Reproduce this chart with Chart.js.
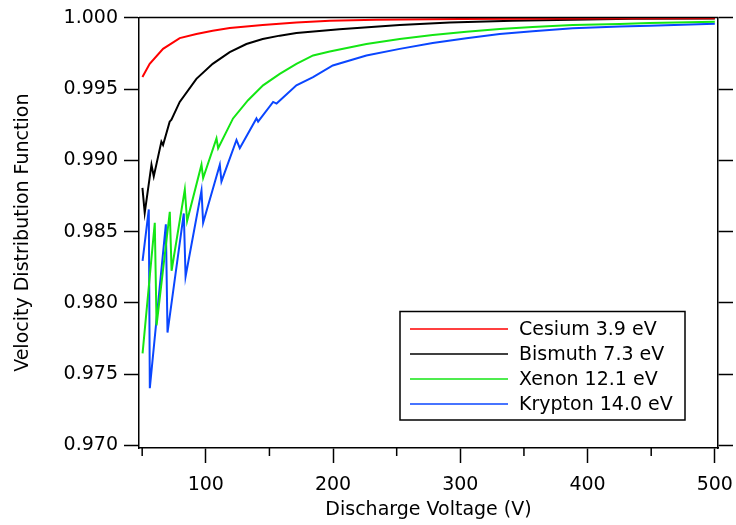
<!DOCTYPE html>
<html>
<head>
<meta charset="utf-8">
<script src="https://cdn.jsdelivr.net/npm/chart.js@4.4.1/dist/chart.umd.min.js"></script>
<style>
  html, body { margin: 0; padding: 0; background: #fff; }
  #wrap { width: 736px; height: 525px; }
</style>
</head>
<body>
<div id="wrap"><canvas id="vdfChart"></canvas></div>
<script>
// 軸の目盛り
const xTicks = [100, 200, 300, 400, 500];
const xMinorTicks = [50, 150, 250, 350, 450];
const yTicks = [0.970, 0.975, 0.980, 0.985, 0.990, 0.995, 1.000];

// 系列名
const seriesNames = ['Cesium 3.9 eV', 'Bismuth 7.3 eV', 'Xenon 12.1 eV', 'Krypton 14.0 eV'];

// Cesium
const cesiumV = [50.2, 55.9, 66.4, 79.5, 92.6, 105.4, 118.8, 144.7, 171.2, 197.4, 234, 300, 396, 500];
const cesiumF = [0.99585, 0.99678, 0.99783, 0.99859, 0.99887, 0.99911, 0.99929, 0.99950, 0.99969, 0.99980, 0.99988, 0.99992, 0.99996, 0.99998];

// Bismuth
const bismuthV = [50.2, 52.0, 57.3, 59.1, 65.1, 66.4, 71.6, 73.0, 79.5, 92.6, 105.4, 118.8, 131.9, 144.7, 158.1, 171.2, 205, 252.4, 291.7, 341, 435, 500];
const bismuthF = [0.98807, 0.98632, 0.98970, 0.98888, 0.99132, 0.99109, 0.99272, 0.99286, 0.99411, 0.99573, 0.99678, 0.99760, 0.99817, 0.99852, 0.99876, 0.99894, 0.99920, 0.99950, 0.99969, 0.99980, 0.99994, 0.99996];

// Xenon
const xenonV = [50.3, 59.9, 61.3, 71.7, 73.1, 83.5, 85.3, 96.6, 97.9, 108.4, 109.7, 121.4, 133.2, 145.0, 158.1, 171.2, 184.3, 197.4, 226.2, 252.4, 278.3, 304.8, 330.9, 356.9, 388.3, 425.2, 448.8, 500];
const xenonF = [0.97646, 0.98563, 0.97843, 0.98640, 0.98226, 0.98796, 0.98575, 0.98970, 0.98876, 0.99155, 0.99086, 0.99295, 0.99423, 0.99527, 0.99608, 0.99678, 0.99737, 0.99764, 0.99817, 0.99852, 0.99880, 0.99904, 0.99922, 0.99936, 0.99950, 0.99957, 0.99964, 0.99974];

// Krypton
const kryptonV = [50.3, 55.2, 56.0, 68.6, 69.9, 82.7, 84.1, 96.6, 97.9, 111.0, 112.3, 124.1, 126.7, 139.8, 141.1, 152.9, 155.6, 171.2, 184.3, 199.8, 226.2, 252.4, 278.3, 304.8, 330.9, 356.9, 388.3, 425.2, 448.8, 500];
const kryptonF = [0.98296, 0.98656, 0.97402, 0.98552, 0.97792, 0.98628, 0.98186, 0.98789, 0.98563, 0.98970, 0.98853, 0.99144, 0.99086, 0.99295, 0.99272, 0.99411, 0.99399, 0.99527, 0.99585, 0.99667, 0.99737, 0.99783, 0.99824, 0.99857, 0.99887, 0.99906, 0.99927, 0.99941, 0.99946, 0.99960];

const colors = ['#ff0000', '#000000', '#14e614', '#0a46ff'];

const toPoints = (xs, ys) => xs.map((x, i) => ({ x: x, y: ys[i] }));

const font = { family: "'DejaVu Sans', sans-serif", size: 19 };

// 上枠と x の小目盛り
const framePlugin = {
    id: 'frame',
    afterDraw(chart) {
        const ctx = chart.ctx;
        const a = chart.chartArea;
        const xs = chart.scales.x;
        ctx.save();
        ctx.strokeStyle = '#000';
        ctx.lineWidth = 1.5;
        ctx.beginPath();
        ctx.moveTo(a.left, a.top);
        ctx.lineTo(a.right, a.top);
        xMinorTicks.forEach(v => {
            const px = xs.getPixelForValue(v);
            ctx.moveTo(px, a.bottom);
            ctx.lineTo(px, a.bottom + 8);
        });
        ctx.stroke();
        ctx.restore();
    }
};

// 枠付きの凡例
const boxLegend = {
    id: 'boxLegend',
    afterDraw(chart) {
        const ctx = chart.ctx;
        const a = chart.chartArea;
        const right = a.right - 33;
        const bottom = a.bottom - 28;
        const left = right - 285;
        const top = bottom - 108.5;
        ctx.save();
        ctx.fillStyle = '#fff';
        ctx.fillRect(left, top, right - left, bottom - top);
        ctx.strokeStyle = '#000';
        ctx.lineWidth = 1.5;
        ctx.strokeRect(left, top, right - left, bottom - top);
        ctx.font = "19px 'DejaVu Sans', sans-serif";
        ctx.textBaseline = 'middle';
        ctx.textAlign = 'left';
        chart.data.datasets.forEach((ds, i) => {
            const y = top + 17.5 + i * 25;
            ctx.strokeStyle = ds.borderColor;
            ctx.lineWidth = 1.5;
            ctx.beginPath();
            ctx.moveTo(left + 10, y);
            ctx.lineTo(left + 108, y);
            ctx.stroke();
            ctx.fillStyle = '#000';
            ctx.fillText(ds.label, left + 119, y + 1);
        });
        ctx.restore();
    }
};

const datasets = [
    [cesiumV, cesiumF],
    [bismuthV, bismuthF],
    [xenonV, xenonF],
    [kryptonV, kryptonF]
].map((s, i) => ({
    label: seriesNames[i],
    data: toPoints(s[0], s[1]),
    borderColor: colors[i],
    backgroundColor: colors[i],
    borderWidth: 2,
    pointRadius: 0,
    tension: 0,
    fill: false
}));

new Chart(document.getElementById('vdfChart'), {
    type: 'line',
    data: { datasets: datasets },
    options: {
        responsive: true,
        maintainAspectRatio: false,
        animation: false,
        layout: { padding: { top: 15, left: 0, right: 0, bottom: 0 } },
        plugins: { legend: { display: false }, tooltip: { enabled: false } },
        scales: {
            x: {
                type: 'linear',
                min: 47.5,
                max: 502.5,
                afterFit(s) { s.height = 77; s.paddingLeft = 0; s.paddingRight = 0; },
                afterBuildTicks(s) { s.ticks = xTicks.map(v => ({ value: v })); },
                ticks: { font: font, color: '#000', padding: 11, maxRotation: 0, callback: v => String(v) },
                grid: { drawOnChartArea: false, tickLength: 15, tickColor: '#000', tickWidth: 1.5 },
                border: { color: '#000', width: 1.5 },
                title: { display: true, text: 'Discharge Voltage (V)', font: font, color: '#000', padding: { top: 0, bottom: 4 } }
            },
            y: {
                type: 'linear',
                position: 'left',
                min: 0.96982,
                max: 1.00004,
                afterFit(s) { s.width = 139; },
                afterBuildTicks(s) { s.ticks = yTicks.map(v => ({ value: v })); },
                ticks: { font: font, color: '#000', padding: 6, callback: v => Number(v).toFixed(3) },
                grid: { drawOnChartArea: false, tickLength: 15, tickColor: '#000', tickWidth: 1.5 },
                border: { color: '#000', width: 1.5 },
                title: { display: true, text: 'Velocity Distribution Function', font: font, color: '#000', padding: { top: 12, bottom: 0 } }
            },
            y2: {
                type: 'linear',
                position: 'right',
                min: 0.96982,
                max: 1.00004,
                afterFit(s) { s.width = 18; },
                afterBuildTicks(s) { s.ticks = yTicks.map(v => ({ value: v })); },
                ticks: { display: false },
                grid: { drawOnChartArea: false, tickLength: 15, tickColor: '#000', tickWidth: 1.5 },
                border: { color: '#000', width: 1.5 }
            }
        }
    },
    plugins: [framePlugin, boxLegend]
});
</script>
</body>
</html>
